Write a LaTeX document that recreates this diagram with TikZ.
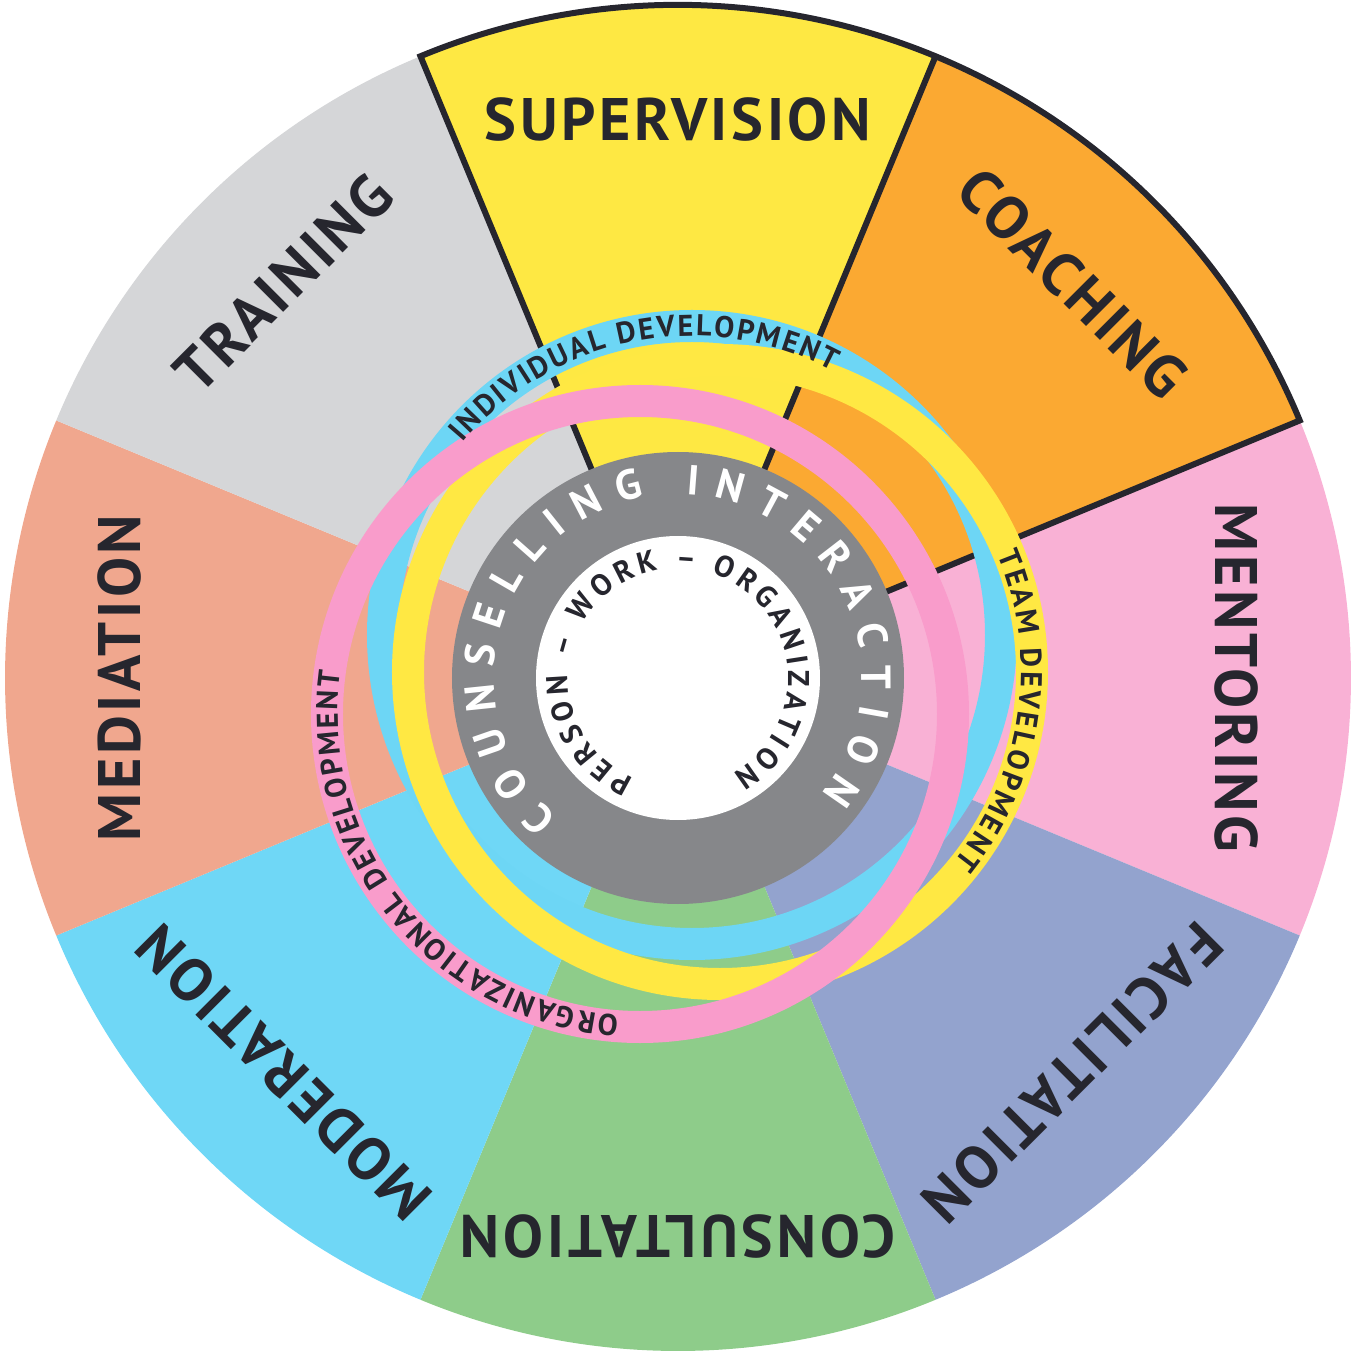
\documentclass[tikz,border=0pt]{standalone}
\usepackage{fontspec}
\setmainfont{PT Sans}
\usetikzlibrary{decorations.text}
\definecolor{csup}{HTML}{FEE843}
\definecolor{ccoa}{HTML}{FBA932}
\definecolor{cmen}{HTML}{F9B1D5}
\definecolor{cfac}{HTML}{93A3CE}
\definecolor{ccon}{HTML}{8ECC8A}
\definecolor{cmod}{HTML}{6FD7F6}
\definecolor{cmed}{HTML}{F0A78E}
\definecolor{ctra}{HTML}{D5D6D8}
\definecolor{rblue}{HTML}{6DD6F5}
\definecolor{ryel}{HTML}{FFE843}
\definecolor{rpink}{HTML}{F99CCB}
\definecolor{cgray}{HTML}{86878A}
\definecolor{dark}{HTML}{26262E}
\tikzset{
 biglabel/.style={font=\bfseries\fontsize{60}{62}\selectfont\addfontfeatures{LetterSpace=6}, text=dark},
 outline/.style={draw=dark, line width=6pt, line join=miter},
 ringline/.style={line width=32pt},
}
\begin{document}
\begin{tikzpicture}[x=1pt,y=1pt]
\useasboundingbox (-678pt,-679pt) rectangle (678pt,678pt);
% sectors
\foreach \a/\c in {67.5/csup,22.5/ccoa,-22.5/cmen,-67.5/cfac,-112.5/ccon,202.5/cmod,157.5/cmed,112.5/ctra}{
  \fill[\c] (0pt,0pt) -- (\a:673pt) arc[start angle=\a, delta angle=45, radius=673pt] -- cycle;
}
\draw[outline] (0pt,0pt) -- (112.5:673pt) arc[start angle=112.5, end angle=22.5, radius=673pt] -- cycle;
\draw[outline] (0pt,0pt) -- (67.5:673pt);
% labels
\node[biglabel, rotate=0] (sup) at (90:558pt) {SUPERVISION};
\node[biglabel, rotate=-45] (coa) at (45:558pt) {COACHING};
\node[biglabel, rotate=-90] (men) at (0:558pt) {MENTORING};
\node[biglabel, rotate=-135] (fac) at (-45:558pt) {FACILITATION};
\node[biglabel, rotate=180] (con) at (-90:558pt) {CONSULTATION};
\node[biglabel, rotate=135] (mod) at (225:558pt) {MODERATION};
\node[biglabel, rotate=90] (med) at (180:558pt) {MEDIATION};
\node[biglabel, rotate=45] (tra) at (135:558pt) {TRAINING};
% rings
\draw[ringline, rblue] (14pt,43pt) circle[radius=309pt];
\draw[ringline, ryel] (42pt,6pt) circle[radius=312pt];
\draw[ringline, rpink] (-38pt,-36pt) circle[radius=313pt];
% ring texts
\path[decorate, decoration={text along path, text align=fit to path, text color=dark,
  text={|\bfseries\fontsize{30}{31}\selectfont|INDIVIDUAL DEVELOPMENT}}]
  ([shift={(14pt,43pt)}]140:299pt) arc[start angle=140, end angle=62, radius=299pt];
\path[decorate, decoration={text along path, text align=fit to path, text color=dark,
  text={|\bfseries\fontsize{30}{31}\selectfont|TEAM DEVELOPMENT}}]
  ([shift={(42pt,6pt)}]23:301pt) arc[start angle=23, end angle=-39, radius=301pt];
\path[decorate, decoration={text along path, text align=fit to path, text color=dark,
  text={|\bfseries\fontsize{30}{31}\selectfont|ORGANIZATIONAL DEVELOPMENT}}]
  ([shift={(-38pt,-36pt)}]266:302pt) arc[start angle=266, end angle=172, radius=302pt];
% center
\fill[cgray] (0pt,0pt) circle[radius=226pt];
\fill[white] (0pt,0pt) circle[radius=142pt];
\path[decorate, decoration={text along path, text align=fit to path, text color=white,
  text={|\bfseries\fontsize{42}{44}\selectfont|COUNSELLING INTERACTION}}]
  (229:184pt) arc[start angle=229, end angle=-39, radius=184pt];
\path[decorate, decoration={text along path, text align=fit to path, text color=dark,
  text={|\bfseries\fontsize{30}{32}\selectfont|PERSON – WORK – ORGANIZATION}}]
  (246:110pt) arc[start angle=246, end angle=-60, radius=110pt];
\end{tikzpicture}
\end{document}
